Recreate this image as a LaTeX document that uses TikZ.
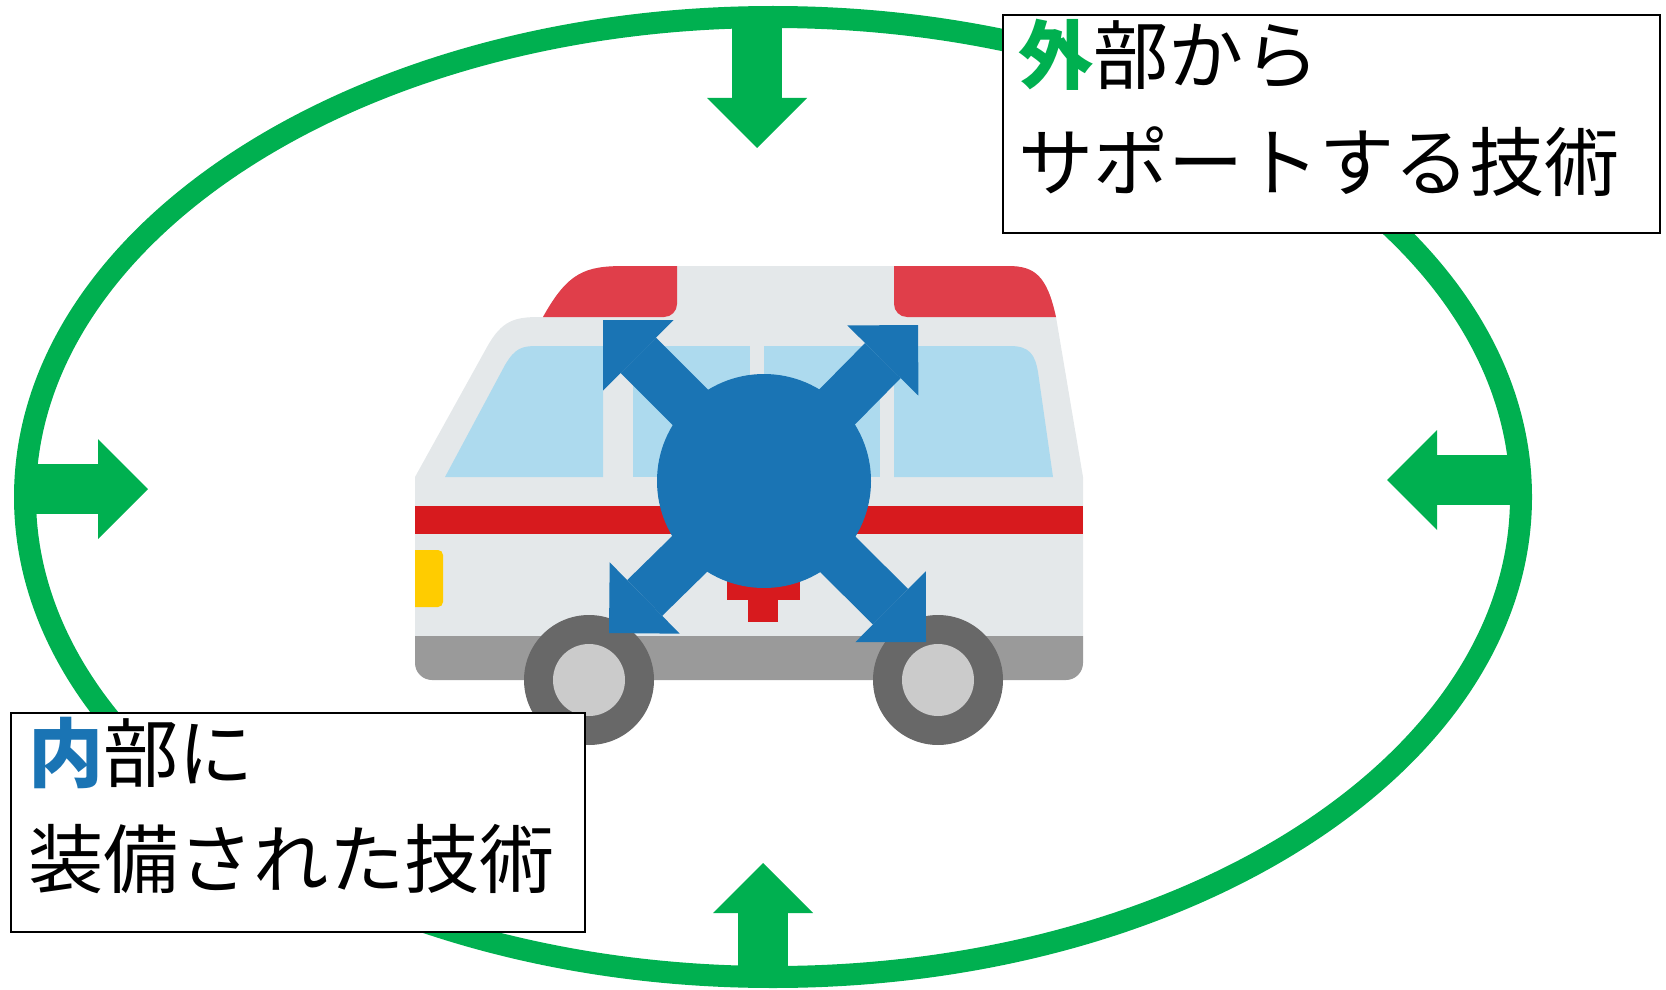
\documentclass[tikz,border=0pt]{standalone}
\usepackage{fontspec}
\usepackage{tikz}
\usetikzlibrary{arrows.meta}
\newfontfamily\jpfont{Noto Sans CJK JP}
\newcommand{\jptext}{\jpfont\fontsize{37.6}{44}\selectfont}
\definecolor{ringgreen}{HTML}{00B050}
\definecolor{techblue}{HTML}{1A74B4}
\definecolor{bodygray}{HTML}{E4E8EA}
\definecolor{glassblue}{HTML}{ADDAEE}
\definecolor{lampred}{HTML}{E03E4A}
\definecolor{stripered}{HTML}{D71A1E}
\definecolor{lampyellow}{HTML}{FFCC00}
\definecolor{bumpergray}{HTML}{9A9A9A}
\definecolor{tiregray}{HTML}{686868}
\definecolor{hubgray}{HTML}{CBCBCB}
\newcommand{\tikzWheelNode}[2]{
  \node[circle,fill=tiregray,inner sep=0pt,minimum size=65pt] (#1) at (#2) {};
  \node[circle,fill=hubgray,inner sep=0pt,minimum size=36pt] (#1hub) at (#1) {};
}

\begin{document}
\begin{tikzpicture}[x=0.5pt, y=-0.5pt,
  greenarrow/.style={ringgreen, line width=25pt, -{Triangle[width=50pt,length=25pt,line width=0pt]}},
  bluearrow/.style={techblue, line width=25pt, -{Triangle[width=50pt,length=25pt,line width=0pt]}},
  labelbox/.style={draw=black, line width=1pt, fill=white, rectangle, inner sep=0pt, anchor=north west},
  labeltext/.style={anchor=base west, inner sep=0pt, font=\jptext}]
  \useasboundingbox (0,0) rectangle (1666,990);

  %outer ring
  \draw[ringgreen, line width=11pt] (773,497) ellipse [x radius=748, y radius=480];

  %ambulance body and roof
  \fill[bodygray] (415,636) -- (415,477) -- (487,347) .. controls (502,320) and (515,317) .. (540,317)
    -- (543,317) .. controls (568,272) and (585,266) .. (625,266) -- (1008,266)
    .. controls (1035,266) and (1047,276) .. (1056,317) -- (1083,477) -- (1083,636) -- cycle;
  \fill[lampred] (543,317) .. controls (568,272) and (585,266) .. (625,266) -- (677,266) -- (677,304)
    arc[start angle=0, end angle=90, radius=13] -- cycle;
  \fill[lampred] (894,266) -- (1008,266) .. controls (1035,266) and (1047,276) .. (1056,317) -- (907,317)
    arc[start angle=90, end angle=180, radius=13] -- cycle;

  %windows
  \fill[glassblue] (445,477) -- (505,365) .. controls (515,348) and (522,346) .. (537,346) -- (603,346) -- (603,477) -- cycle;
  \fill[glassblue] (633,346) rectangle (750,477);
  \fill[glassblue] (764,346) rectangle (880,477);
  \fill[glassblue] (894,477) -- (894,346) -- (1010,346) .. controls (1030,346) and (1035,355) .. (1038,372) -- (1053,477) -- cycle;

  %stripe, lamp, cross and bumper
  \fill[stripered] (415,506) rectangle (1083,534);
  \fill[lampyellow] (415,550) -- (438,550) arc[start angle=-90, end angle=0, radius=5] -- (443,602)
    arc[start angle=0, end angle=90, radius=5] -- (415,607) -- cycle;
  \fill[stripered] (727,570) rectangle (800,600);
  \fill[stripered] (748,549) rectangle (778,622);
  \fill[bumpergray] (415,636) -- (1083,636) -- (1083,663) arc[start angle=0, end angle=90, radius=17]
    -- (432,680) arc[start angle=90, end angle=180, radius=17] -- cycle;

  \tikzWheelNode{frontwheel}{589,680}
  \tikzWheelNode{rearwheel}{938,680}

  %technology inside, spreading out
  \node[circle, fill=techblue, inner sep=0pt, minimum size=107pt] (core) at (764,481) {};
  \coordinate (coreUL) at (603,320);
  \coordinate (coreUR) at (918,325);
  \coordinate (coreLL) at (609,633);
  \coordinate (coreLR) at (926,642);
  \draw[bluearrow] (core.center) -- (coreUL);
  \draw[bluearrow] (core.center) -- (coreUR);
  \draw[bluearrow] (core.center) -- (coreLL);
  \draw[bluearrow] (core.center) -- (coreLR);

  %support from outside
  \coordinate (ringT) at (757,17);   \coordinate (tipT) at (757,148);
  \coordinate (ringL) at (25,489);   \coordinate (tipL) at (148,489);
  \coordinate (ringR) at (1521,480); \coordinate (tipR) at (1387,480);
  \coordinate (ringB) at (763,977);  \coordinate (tipB) at (763,863);
  \draw[greenarrow] (ringT) -- (tipT);
  \draw[greenarrow] (ringL) -- (tipL);
  \draw[greenarrow] (ringR) -- (tipR);
  \draw[greenarrow] (ringB) -- (tipB);

  %labels
  \node[labelbox, minimum width=328.5pt, minimum height=109pt] (outerbox) at (1002,14) {};
  \node[labeltext] (outerline1) at (1018,84) {\textcolor{ringgreen}{\bfseries 外}部から};
  \node[labeltext] (outerline2) at (1018,191) {サポートする技術};
  \node[labelbox, minimum width=287pt, minimum height=109.5pt] (innerbox) at (10,712) {};
  \node[labeltext] (innerline1) at (28,781) {\textcolor{techblue}{\bfseries 内}部に};
  \node[labeltext] (innerline2) at (28,887) {装備された技術};
\end{tikzpicture}
\end{document}
